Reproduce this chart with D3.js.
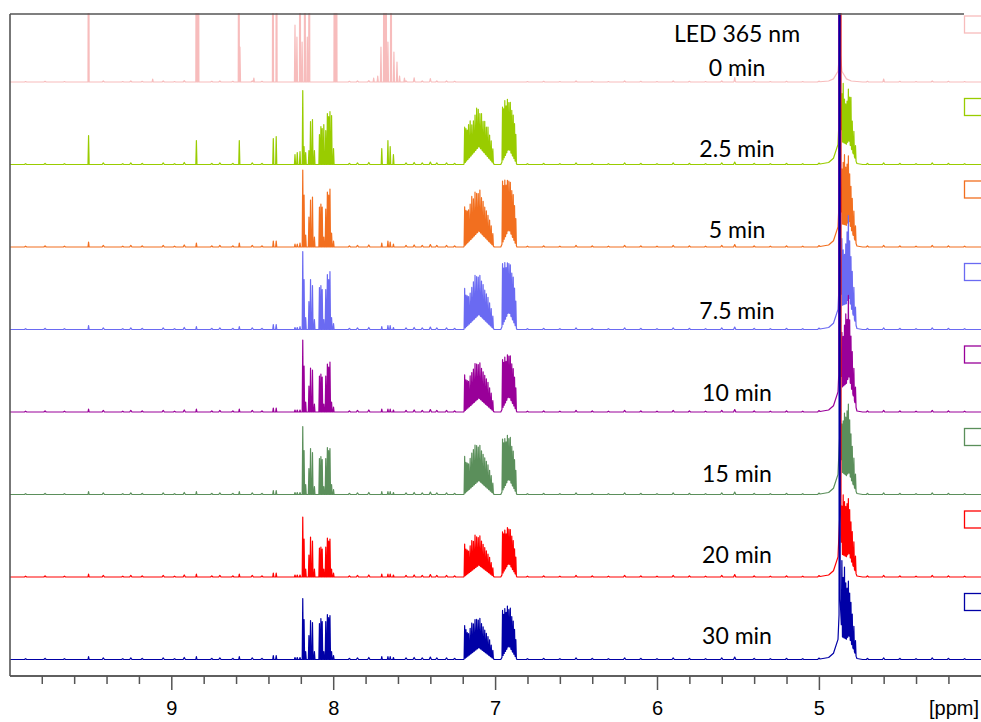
<!DOCTYPE html>
<html>
<head>
<meta charset="utf-8">
<script src="https://cdn.jsdelivr.net/npm/d3@7"></script>
<style>
body{margin:0;background:#fff;}
svg{display:block;}
</style>
</head>
<body>
<svg id="chart"></svg>
<script>
// stacked 1H NMR spectra, LED 365 nm irradiation series

var timeLabels = ["0 min","2.5 min","5 min","7.5 min","10 min","15 min","20 min","30 min"];
var lineColors = ["#f7bcbc","#99cc00","#f26f1f","#6a6af2","#990099","#5b8f5b","#ff0000","#0000a6"];
var hdoPpm     = [4.870, 4.872, 4.871, 4.873, 4.874, 4.869, 4.867, 4.872];

// 0 min (starting material): [ppm, height]
var startPeaks = [
  [9.511,300],[9.115,3],[8.845,300],[8.833,300],[8.583,300],[8.576,35],[8.490,4],
  [8.372,300],[8.350,300],[8.236,57],[8.224,45],[8.205,300],[8.192,40],[8.175,300],
  [8.160,45],[8.148,300],[7.992,300],[7.980,300],[7.750,4],[7.725,6],[7.705,35],
  [7.686,300],[7.674,300],[7.662,40],[7.643,300],[7.625,30],[7.606,20],[7.590,6],
  [7.560,4],[7.500,3],[7.400,2],[5.520,3],[4.600,2]
];

// line positions shared by the irradiated spectra (ppm)
var prodPpm = [
  9.511, 8.845, 8.580, 8.370, 8.352, 8.236, 8.222, 8.205,
  8.188, 8.180, 8.170, 8.150, 8.140, 8.128, 8.116, 8.085, 8.076, 8.068, 8.058, 8.046, 8.036, 8.028, 8.020, 8.010, 7.998,
  7.700, 7.662, 7.648, 7.628,
  7.188, 7.180, 7.172, 7.164, 7.154, 7.144, 7.134, 7.124, 7.114, 7.104, 7.094, 7.084, 7.074, 7.064, 7.054, 7.044, 7.034, 7.024, 7.014,
  6.954, 6.947, 6.940, 6.932, 6.924, 6.915, 6.906, 6.897, 6.888, 6.880, 6.872,
  4.858, 4.850, 4.842, 4.834, 4.826, 4.818, 4.810, 4.802, 4.794, 4.784, 4.774
];

var h2_5 = [
  29, 24, 24, 26, 28, 10, 12, 13,
  74, 18, 12, 14, 43, 45, 14, 30, 38, 36, 40, 34, 51, 48, 53, 49, 16,
  16, 24, 18, 10,
  36, 33, 30, 34, 36, 30, 32, 36, 41, 38, 34, 36, 30, 32, 28, 30, 24, 20, 14,
  54, 50, 56, 48, 52, 46, 49, 44, 42, 36, 28,
  48, 59, 44, 40, 42, 52, 46, 50, 30, 24, 14
];
var h5 = [
  5, 4, 4, 6, 6, 3, 3, 4,
  77, 52, 12, 30, 47, 50, 10, 40, 43, 40, 10, 38, 55, 52, 58, 14, 6,
  4, 6, 5, 3,
  39, 34, 32, 32, 36, 42, 38, 43, 40, 38, 42, 36, 34, 30, 28, 25, 22, 18, 12,
  62, 55, 58, 50, 52, 48, 50, 45, 44, 36, 26,
  55, 62, 70, 58, 60, 66, 50, 42, 34, 26, 16
];
var h7_5 = [
  4, 3, 3, 5, 5, 2, 2, 3,
  78, 50, 12, 28, 50, 44, 10, 42, 44, 40, 10, 40, 55, 50, 58, 12, 6,
  3, 4, 4, 2,
  40, 32, 30, 28, 30, 34, 38, 43, 40, 38, 40, 36, 34, 30, 28, 26, 22, 18, 12,
  62, 55, 58, 50, 52, 48, 50, 45, 44, 36, 26,
  67, 55, 50, 60, 70, 83, 60, 50, 40, 30, 16
];
var h10 = [
  3, 3, 3, 4, 4, 2, 2, 2,
  72, 46, 10, 26, 44, 42, 8, 36, 38, 35, 8, 36, 48, 45, 50, 10, 5,
  3, 3, 3, 2,
  36, 30, 28, 26, 30, 32, 34, 38, 36, 34, 36, 32, 30, 28, 26, 24, 20, 16, 10,
  49, 44, 47, 40, 44, 40, 43, 38, 36, 30, 22,
  55, 50, 60, 70, 62, 82, 60, 50, 40, 30, 18
];
var h15 = [
  3, 3, 3, 4, 4, 2, 2, 2,
  68, 44, 10, 26, 46, 42, 8, 36, 38, 35, 8, 36, 47, 44, 46, 10, 5,
  3, 3, 3, 2,
  37, 30, 28, 26, 30, 34, 36, 39, 37, 34, 36, 32, 30, 28, 26, 24, 20, 16, 10,
  52, 46, 48, 42, 46, 40, 44, 38, 36, 30, 22,
  48, 52, 61, 58, 64, 69, 55, 45, 36, 28, 16
];
var h20 = [
  3, 3, 3, 4, 4, 2, 2, 2,
  60, 38, 8, 22, 40, 36, 8, 29, 30, 28, 8, 30, 39, 36, 38, 8, 4,
  3, 3, 3, 2,
  32, 26, 24, 22, 26, 30, 28, 33, 30, 28, 30, 26, 24, 22, 20, 18, 16, 12, 8,
  42, 38, 40, 34, 38, 34, 36, 32, 30, 24, 18,
  48, 60, 54, 50, 52, 55, 46, 38, 32, 26, 16
];
var h30 = [
  3, 3, 3, 4, 4, 2, 2, 2,
  61, 40, 8, 24, 39, 37, 8, 36, 41, 38, 8, 38, 45, 42, 44, 8, 4,
  3, 3, 3, 2,
  33, 28, 24, 22, 26, 30, 28, 31, 30, 28, 30, 26, 24, 22, 20, 18, 16, 12, 8,
  46, 40, 44, 38, 42, 36, 40, 34, 32, 26, 18,
  76, 60, 71, 56, 50, 55, 45, 40, 32, 24, 14
];

// broad envelopes under the multiplets and the HDO foot
var humpPpm   = [7.100, 6.915, 4.815, 4.870, 4.870, 4.870, 4.870];
var humpWidth = [0.095, 0.050, 0.050, 0.140, 0.070, 0.040, 0.012];
var humpHeights = [
  [0, 0, 0, 2, 4, 8, 20],
  [18, 16, 20, 4, 8, 14, 40],
  [16, 18, 22, 4, 8, 14, 40],
  [15, 18, 28, 4, 8, 14, 40],
  [14, 16, 32, 4, 8, 14, 40],
  [14, 16, 18, 4, 8, 14, 40],
  [12, 14, 20, 4, 8, 14, 40],
  [12, 14, 20, 4, 8, 14, 40]
];

// baseline noise bumps
var noisePpm = [9.90,9.78,9.66,9.42,9.30,9.25,9.18,9.05,8.98,8.92,8.75,8.70,8.62,8.50,8.44,
  7.90,7.85,7.78,7.55,7.50,7.45,7.40,7.36,7.30,7.25,6.80,6.70,6.60,6.50,6.40,6.30,6.20,
  6.10,6.00,5.90,5.80,5.70,5.60,5.52,5.40,5.30,5.20,5.10,5.00,4.70,4.60,4.50,4.40,4.30,4.20,4.10];
var noiseH = [1,1.5,1,2,1,2,1.5,2,1,2.5,1.5,2,1.5,2,1.5,
  1.5,2,2.5,2,2.5,2,3,2,2,1.5,1,1.5,1,2,1.5,1,2,
  1.5,1,2,1.5,1,2,3,1.5,1,1.5,1,1.5,1.5,2,1.5,1,2,1.5,1];

var majorTicks = [9, 8, 7, 6, 5];
var minorTicks = [9.8,9.6,9.4,9.2,8.8,8.6,8.4,8.2,7.8,7.6,7.4,7.2,6.8,6.6,6.4,6.2,5.8,5.6,5.4,5.2,4.8,4.6,4.4,4.2];

var prodHeights = [null, h2_5, h5, h7_5, h10, h15, h20, h30];

var W = 981, H = 722;
var left = 10, top_ = 14, axisY = 676;
var lineW = 0.0035;

var svg = d3.select("#chart").attr("width", W).attr("height", H)
    .style("font-family", "'Liberation Sans', Arial, sans-serif");

var x = d3.scaleLinear().domain([10, 4]).range([9.4, 980.8]);
var baseY = d3.scaleLinear().domain([0, 7]).range([82, 659.5]);
var labelY = d3.scaleLinear().domain([0, 7]).range([76, 644]);

svg.append("defs").append("clipPath").attr("id", "plotClip")
  .append("rect").attr("x", left).attr("y", top_ - 1).attr("width", W - left).attr("height", axisY - top_ + 1);

// sum of triangular lines -> polyline vertices
function spectrum(lines){
    var xs = [10.05, 3.95];
    lines.forEach(function(l){ xs.push(l[0] - l[2], l[0], l[0] + l[2]); });
    xs = Array.from(new Set(xs)).sort(function(a, b){ return b - a; });
    return xs.map(function(p){
        return [p, d3.sum(lines, function(l){ return Math.max(0, l[1] * (1 - Math.abs(p - l[0]) / l[2])); })];
    });
}

function linesFor(i){
    var lines = [];
    if(i == 0){
        startPeaks.forEach(function(d){ lines.push([d[0], d[1], lineW]); });
    } else {
        prodPpm.forEach(function(p, k){ lines.push([p, prodHeights[i][k], lineW]); });
    }
    humpPpm.forEach(function(p, k){
        if(humpHeights[i][k] > 0) lines.push([p, humpHeights[i][k], humpWidth[k]]);
    });
    noisePpm.forEach(function(p, k){ lines.push([p, noiseH[k] * (i == 0 ? 0.5 : 0.8), 0.007]); });
    lines.push([hdoPpm[i], 3000, lineW]);
    return lines;
}

var plot = svg.append("g").attr("clip-path", "url(#plotClip)");

timeLabels.forEach(function(lab, i){
    var b = baseY(i);
    var y = d3.scaleLinear().domain([0, 80]).range([b, b - 80]);
    var line = d3.line().x(function(d){ return x(d[0]); }).y(function(d){ return y(d[1]); });
    plot.append("path")
        .attr("d", line(spectrum(linesFor(i))))
        .attr("fill", "none")
        .attr("stroke", lineColors[i])
        .attr("stroke-width", 1.2)
        .attr("stroke-linejoin", "round");
});

// legend boxes on the right edge
timeLabels.forEach(function(lab, i){
    svg.append("rect")
        .attr("x", 964.5).attr("y", baseY(i) - 66)
        .attr("width", 24).attr("height", 17)
        .attr("fill", "#fff").attr("stroke", lineColors[i]).attr("stroke-width", 1.3);
});

// frame
svg.append("line").attr("x1", left).attr("x2", 964).attr("y1", top_).attr("y2", top_)
    .attr("stroke", "#555").attr("stroke-width", 1.6);
svg.append("line").attr("x1", left).attr("x2", left).attr("y1", top_).attr("y2", axisY)
    .attr("stroke", "#555").attr("stroke-width", 1.6);

// spectrum labels
var labG = svg.append("g").style("font-family", "Lato, 'Open Sans', sans-serif")
    .style("font-size", "23px").attr("text-anchor", "middle").attr("fill", "#000");
labG.append("text").attr("x", 737).attr("y", 42).text("LED 365 nm");
timeLabels.forEach(function(lab, i){
    labG.append("text").attr("x", 737).attr("y", labelY(i)).text(lab);
});

// x axis
var minorAxis = svg.append("g").attr("transform", "translate(0," + axisY + ")")
    .call(d3.axisBottom(x).tickValues(minorTicks).tickSize(8).tickSizeOuter(0).tickFormat(""));
var majorAxis = svg.append("g").attr("transform", "translate(0," + axisY + ")")
    .call(d3.axisBottom(x).tickValues(majorTicks).tickSize(14).tickSizeOuter(0).tickFormat(d3.format("d")));
[minorAxis, majorAxis].forEach(function(g){
    g.select(".domain").attr("stroke", "#555").attr("stroke-width", 1.6)
        .attr("d", "M" + left + ",0H" + W);
    g.selectAll(".tick line").attr("stroke", "#555").attr("stroke-width", 1.5);
});
majorAxis.selectAll(".tick text").attr("y", 39).attr("dy", null)
    .attr("font-size", 20).attr("fill", "#000")
    .attr("font-family", "'Liberation Sans', Arial, sans-serif");

svg.append("text").attr("x", 979).attr("y", 715).attr("text-anchor", "end")
    .attr("font-size", 20).attr("fill", "#000").text("[ppm]");
</script>
</body>
</html>
